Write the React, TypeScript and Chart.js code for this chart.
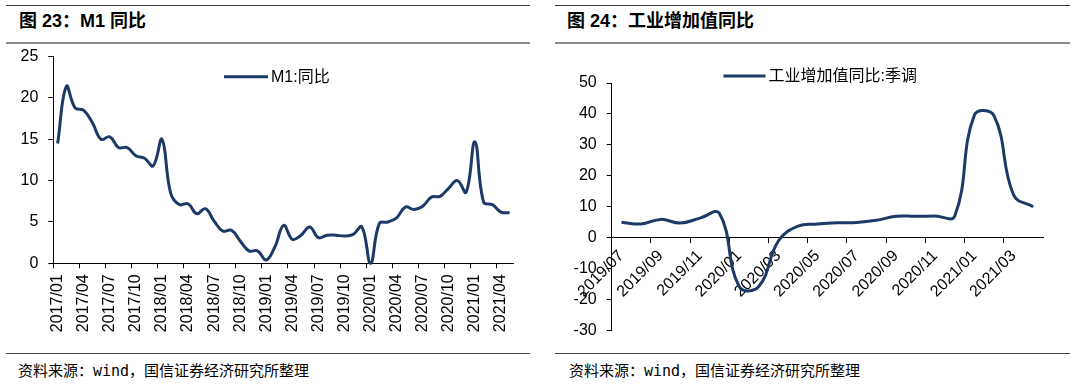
import React, { useEffect, useRef } from 'react';
import { Chart, registerables } from 'chart.js';

Chart.register(...registerables);

// ---------------- Data ----------------
const m1Labels = [
  '2017/01', '2017/02', '2017/03', '2017/04', '2017/05', '2017/06', '2017/07', '2017/08', '2017/09', '2017/10', '2017/11', '2017/12',
  '2018/01', '2018/02', '2018/03', '2018/04', '2018/05', '2018/06', '2018/07', '2018/08', '2018/09', '2018/10', '2018/11', '2018/12',
  '2019/01', '2019/02', '2019/03', '2019/04', '2019/05', '2019/06', '2019/07', '2019/08', '2019/09', '2019/10', '2019/11', '2019/12',
  '2020/01', '2020/02', '2020/03', '2020/04', '2020/05', '2020/06', '2020/07', '2020/08', '2020/09', '2020/10', '2020/11', '2020/12',
  '2021/01', '2021/02', '2021/03', '2021/04', '2021/05',
];
const m1Values = [
  14.5, 21.4, 18.8, 18.5, 17.0, 15.0, 15.3, 14.0, 14.0, 13.0, 12.7, 11.8,
  15.0, 8.5, 7.1, 7.2, 6.0, 6.6, 5.1, 3.9, 4.0, 2.7, 1.5, 1.5,
  0.4, 2.0, 4.6, 2.9, 3.4, 4.4, 3.1, 3.4, 3.4, 3.3, 3.5, 4.4,
  0.0, 4.8, 5.0, 5.5, 6.8, 6.5, 6.9, 8.0, 8.1, 9.1, 10.0, 8.6,
  14.7, 7.4, 7.1, 6.2, 6.1,
];
const m1SeriesName = 'M1:同比';
const m1YRange = [0, 25, 5];

const ipLabels = [
  '2019/07', '2019/08', '2019/09', '2019/10', '2019/11', '2019/12',
  '2020/01', '2020/02', '2020/03', '2020/04', '2020/05', '2020/06',
  '2020/07', '2020/08', '2020/09', '2020/10', '2020/11', '2020/12',
  '2021/01', '2021/02', '2021/03', '2021/04',
];
const ipValues = [
  5.0, 4.4, 5.9, 4.7, 6.3, 7.8,
  -15.8, -15.8, -1.1, 3.7, 4.4, 4.8,
  4.9, 5.6, 6.9, 6.9, 7.0, 7.0,
  39.6, 39.4, 13.8, 10.0,
];
const ipSeriesName = '工业增加值同比:季调';
const ipYRange = [-30, 50, 10];

const titleLeft = '图 23：M1 同比';
const titleRight = '图 24：工业增加值同比';
const sourceText = '资料来源：wind，国信证券经济研究所整理';

// ---------------- Styles ----------------
const LINE_COLOR = '#1b3a66';
const TICK_FONT = { family: '"Liberation Sans", Arial, "Noto Sans CJK SC", sans-serif', size: 16 };

const inlineLegend = {
  id: 'inlineLegend',
  afterDraw(chart: any, _args: any, opts: any) {
    const ds = chart.data.datasets[0];
    const ctx = chart.ctx;
    ctx.save();
    ctx.strokeStyle = ds.borderColor;
    ctx.lineWidth = 3;
    ctx.beginPath();
    ctx.moveTo(opts.x, opts.y);
    ctx.lineTo(opts.x + opts.len, opts.y);
    ctx.stroke();
    ctx.fillStyle = '#000';
    ctx.font = '16px "Liberation Sans", Arial, "Noto Sans CJK SC", sans-serif';
    ctx.textBaseline = 'middle';
    ctx.textAlign = 'left';
    ctx.fillText(ds.label, opts.x + opts.len + 3, opts.y + 1);
    ctx.restore();
  },
};

type ChartProps = {
  labels: string[];
  values: number[];
  name: string;
  yRange: number[];
  every: number;
  rotation: number;
  xAtZero: boolean;
  yWidth: number;
  xHeight: number;
  padding: any;
  legend: any;
  xPad: number;
  box: { left: number; top: number; width: number; height: number };
};

function LineChart(p: ChartProps) {
  const ref = useRef<HTMLCanvasElement | null>(null);
  useEffect(() => {
    if (!ref.current) return;
    const tickColor = (ctx: any) => (ctx.index % p.every === 0 ? '#000' : 'rgba(0,0,0,0)');
    const chart = new Chart(ref.current, {
      type: 'line',
      data: {
        labels: p.labels,
        datasets: [
          {
            label: p.name,
            data: p.values,
            borderColor: LINE_COLOR,
            backgroundColor: LINE_COLOR,
            borderWidth: 3,
            pointRadius: 0,
            tension: 0.42,
            clip: false as any,
            fill: false,
          },
        ],
      },
      options: {
        animation: false,
        responsive: true,
        maintainAspectRatio: false,
        events: [],
        layout: { padding: p.padding },
        plugins: {
          legend: { display: false },
          tooltip: { enabled: false },
          inlineLegend: p.legend,
        } as any,
        scales: {
          x: {
            type: 'category',
            offset: true,
            position: p.xAtZero ? ({ y: 0 } as any) : 'bottom',
            grid: {
              display: true,
              drawOnChartArea: false,
              offset: true,
              tickLength: 5,
              color: tickColor,
              tickColor: tickColor,
              lineWidth: 1,
            },
            border: { display: true, color: '#000', width: 1 },
            ticks: {
              autoSkip: false,
              maxRotation: p.rotation,
              minRotation: p.rotation,
              padding: p.xPad,
              color: '#000',
              font: TICK_FONT,
              callback: (_v: any, i: number) => (i % p.every === 0 ? p.labels[i] : ''),
            },
            afterFit: (s: any) => {
              s.height = p.xHeight;
            },
          },
          y: {
            type: 'linear',
            min: p.yRange[0],
            max: p.yRange[1],
            grid: {
              display: true,
              drawOnChartArea: false,
              tickLength: 5,
              color: '#000',
              tickColor: '#000',
            },
            border: { display: true, color: '#000', width: 1 },
            ticks: {
              stepSize: p.yRange[2],
              padding: 10,
              color: '#000',
              font: TICK_FONT,
            },
            afterFit: (s: any) => {
              s.width = p.yWidth;
            },
          },
        },
      },
      plugins: [inlineLegend as any],
    });
    return () => chart.destroy();
  }, []);
  return (
    <div style={{ position: 'absolute', left: p.box.left, top: p.box.top, width: p.box.width, height: p.box.height }}>
      <canvas ref={ref} />
    </div>
  );
}

const titleStyle: React.CSSProperties = {
  position: 'absolute',
  top: 11,
  height: 20,
  lineHeight: '20px',
  fontSize: 18,
  fontWeight: 'bold',
  fontFamily: '"Liberation Sans", Arial, "Noto Sans CJK SC", sans-serif',
  color: '#000',
  whiteSpace: 'nowrap',
};
const footStyle: React.CSSProperties = {
  position: 'absolute',
  top: 362,
  height: 18,
  lineHeight: '18px',
  fontSize: 15,
  fontFamily: '"DejaVu Sans Mono", "Noto Sans CJK SC", monospace',
  color: '#000',
  whiteSpace: 'nowrap',
};
const rule = (left: number, top: number, width: number, h: number, c: string): React.CSSProperties => ({
  position: 'absolute',
  left,
  top,
  width,
  height: h,
  background: c,
});

export default function App() {
  return (
    <div style={{ position: 'absolute', left: 0, top: 0, width: 1080, height: 389, background: '#fff', overflow: 'hidden' }}>
      {/* Left panel */}
      <div style={rule(6, 5, 524, 1, '#333')} />
      <div style={{ ...titleStyle, left: 19 }}>{titleLeft}</div>
      <div style={rule(6, 42, 524, 2, '#8a8a8a')} />
      <LineChart
        labels={m1Labels}
        values={m1Values}
        name={m1SeriesName}
        yRange={m1YRange}
        every={3}
        rotation={90}
        xAtZero={false}
        yWidth={53.3}
        xHeight={86.7}
        xPad={6}
        padding={{ top: 10, right: 17.4, left: 0, bottom: 0 }}
        legend={{ x: 224, y: 39.7, len: 44 }}
        box={{ left: 0, top: 37, width: 535, height: 313 }}
      />
      <div style={rule(6, 353, 524, 1, '#444')} />
      <div style={{ ...footStyle, left: 18 }}>{sourceText}</div>

      {/* Right panel */}
      <div style={rule(555, 5, 515, 1, '#333')} />
      <div style={{ ...titleStyle, left: 567 }}>{titleRight}</div>
      <div style={rule(555, 42, 515, 2, '#8a8a8a')} />
      <LineChart
        labels={ipLabels}
        values={ipValues}
        name={ipSeriesName}
        yRange={ipYRange}
        every={2}
        rotation={45}
        xAtZero={true}
        yWidth={66.7}
        xHeight={60}
        xPad={4}
        padding={{ top: 38, right: 17, left: 0, bottom: 16 }}
        legend={{ x: 178.5, y: 31, len: 42 }}
        box={{ left: 545, top: 45, width: 515, height: 305 }}
      />
      <div style={rule(555, 353, 515, 1, '#444')} />
      <div style={{ ...footStyle, left: 569 }}>{sourceText}</div>
    </div>
  );
}
